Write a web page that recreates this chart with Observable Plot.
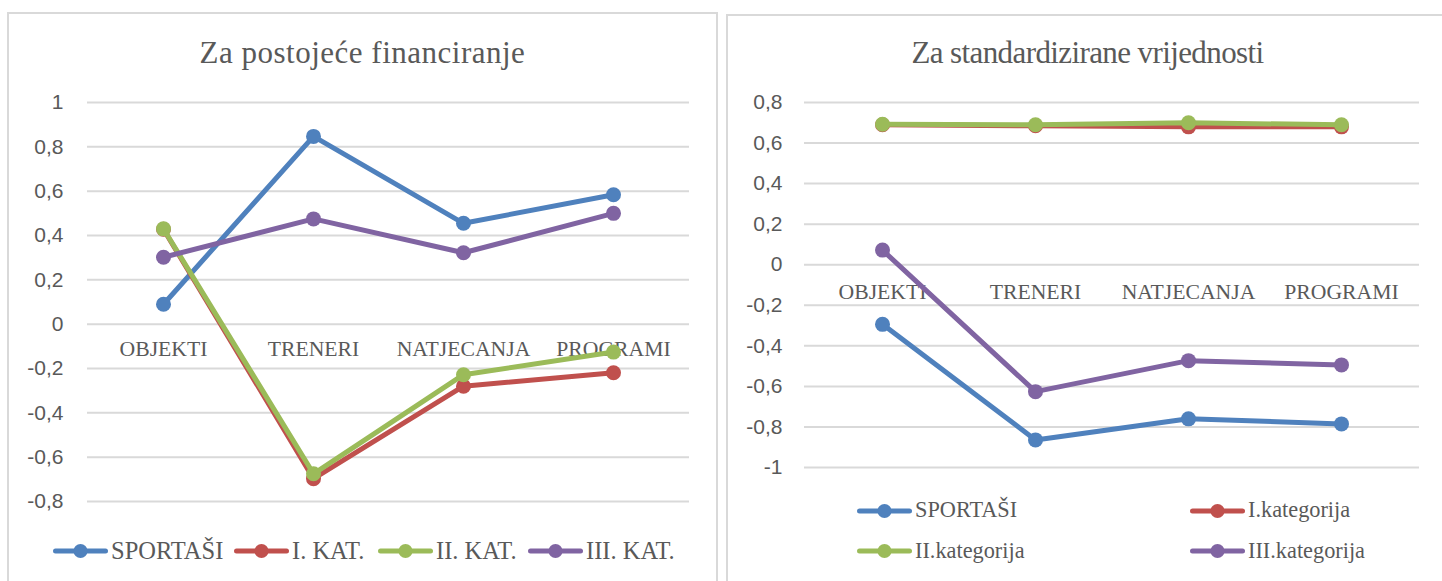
<!DOCTYPE html>
<html>
<head>
<meta charset="utf-8">
<script src="https://cdn.jsdelivr.net/npm/d3@7"></script>
<script src="https://cdn.jsdelivr.net/npm/@observablehq/plot@0.6"></script>
<style>
  html, body { margin: 0; padding: 0; background: #fff; overflow: hidden; width: 1442px; height: 581px; }
  .panel { position: absolute; box-sizing: border-box; border: 2px solid #d9d9d9; background: #fff; }
  .title { position: absolute; font-family: "Liberation Serif", serif; font-size: 31px; line-height: 31px; color: #595959; white-space: nowrap; text-align: center; }
  .plotbox { position: absolute; }
  .leg { position: absolute; height: 24px; display: flex; align-items: center; font-family: "Liberation Serif", serif; color: #595959; white-space: nowrap; line-height: 1; }
  .leg svg { display: block; margin-right: 3px; }
</style>
</head>
<body>
<div id="root"></div>
<script>
// ---------- data ----------
const categories = ["OBJEKTI", "TRENERI", "NATJECANJA", "PROGRAMI"];
const colors = ["#4f81bd", "#c0504d", "#9bbb59", "#8064a2"];

// Left chart: "Za postojeće financiranje"
const leftTitle = "Za postojeće financiranje";
const leftSeries = ["SPORTAŠI", "I. KAT.", "II. KAT.", "III. KAT."];
const leftSportasi = [0.09, 0.847, 0.455, 0.584];
const leftKat1 = [0.428, -0.697, -0.28, -0.219];
const leftKat2 = [0.43, -0.675, -0.228, -0.126];
const leftKat3 = [0.302, 0.475, 0.322, 0.50];
const leftTicks = [-0.8, -0.6, -0.4, -0.2, 0, 0.2, 0.4, 0.6, 0.8, 1];

// Right chart: "Za standardizirane vrijednosti"
const rightTitle = "Za standardizirane vrijednosti";
const rightSeries = ["SPORTAŠI", "I.kategorija", "II.kategorija", "III.kategorija"];
const rightSportasi = [-0.294, -0.864, -0.76, -0.785];
const rightKat1 = [0.69, 0.685, 0.68, 0.68];
const rightKat2 = [0.693, 0.69, 0.70, 0.69];
const rightKat3 = [0.072, -0.626, -0.473, -0.494];
const rightTicks = [-1, -0.8, -0.6, -0.4, -0.2, 0, 0.2, 0.4, 0.6, 0.8];

// ---------- helpers ----------
const fmt = d => String(Math.round(d * 10) / 10).replace(".", ",");
function toRows(seriesNames, valueLists) {
  const rows = [];
  seriesNames.forEach((s, i) => {
    valueLists[i].forEach((v, j) => rows.push({series: s, cat: categories[j], value: v}));
  });
  return rows;
}

const root = document.getElementById("root");
function el(tag, cls, styles, text) {
  const e = document.createElement(tag);
  if (cls) e.className = cls;
  Object.assign(e.style, styles || {});
  if (text != null) e.textContent = text;
  root.appendChild(e);
  return e;
}

function makeChart(cfg) {
  const rows = toRows(cfg.series, cfg.values);
  const marks = [
    Plot.gridY(cfg.ticks, {stroke: "#d9d9d9", strokeOpacity: 1, strokeWidth: 2}),
    Plot.axisY(cfg.ticks, {tickSize: 0, tickPadding: cfg.tickPadding, tickFormat: fmt, fontSize: 21, color: "#595959", label: null, fontFamily: "Liberation Sans"}),
    Plot.text(categories, {x: d => d, y: () => 0, dy: cfg.catDy, text: d => d, fontSize: 21.7, fontFamily: "Liberation Serif", fill: "#595959"})
  ];
  cfg.series.forEach(s => {
    const sub = rows.filter(r => r.series === s);
    marks.push(Plot.line(sub, {x: "cat", y: "value", stroke: "series", strokeWidth: 5}));
    marks.push(Plot.dot(sub, {x: "cat", y: "value", fill: "series", r: 7.5}));
  });
  return Plot.plot({
    width: cfg.width, height: cfg.height,
    marginLeft: cfg.ml, marginRight: cfg.mr, marginTop: cfg.mt, marginBottom: cfg.mb,
    style: {background: "transparent", overflow: "visible", fontFamily: "Liberation Sans"},
    x: {type: "point", domain: categories, padding: 0.5, axis: null},
    y: {domain: cfg.domain, axis: null},
    color: {domain: cfg.series, range: colors},
    marks
  });
}

function legendItem(x, cy, color, label, fontSize) {
  const d = el("div", "leg", {left: x + "px", top: (cy - 12) + "px", fontSize: fontSize + "px"});
  const ns = "http://www.w3.org/2000/svg";
  const svg = document.createElementNS(ns, "svg");
  svg.setAttribute("width", 55); svg.setAttribute("height", 16);
  const ln = document.createElementNS(ns, "line");
  ln.setAttribute("x1", 2.5); ln.setAttribute("x2", 52.5); ln.setAttribute("y1", 8); ln.setAttribute("y2", 8);
  ln.setAttribute("stroke", color); ln.setAttribute("stroke-width", 5); ln.setAttribute("stroke-linecap", "round");
  const c = document.createElementNS(ns, "circle");
  c.setAttribute("cx", 27.5); c.setAttribute("cy", 8); c.setAttribute("r", 7); c.setAttribute("fill", color);
  svg.appendChild(ln); svg.appendChild(c);
  d.appendChild(svg);
  const sp = document.createElement("span"); sp.textContent = label; d.appendChild(sp);
}

// ---------- left panel ----------
el("div", "panel", {left: "7px", top: "12px", width: "711px", height: "600px"});
el("div", "title", {left: "7px", top: "37px", width: "711px", letterSpacing: "0.5px"}, leftTitle);
const leftBox = el("div", "plotbox", {left: "8px", top: "80px"});
leftBox.appendChild(makeChart({
  series: leftSeries, values: [leftSportasi, leftKat1, leftKat2, leftKat3],
  ticks: leftTicks, domain: [-0.8, 1],
  width: 710, height: 440, ml: 79, mr: 29, mt: 22, mb: 19,
  tickPadding: 24, catDy: 25
}));
const leftLegX = [53, 234, 378, 528];
leftSeries.forEach((s, i) => legendItem(leftLegX[i], 551, colors[i], s, 24.5));

// ---------- right panel ----------
el("div", "panel", {left: "726px", top: "14px", width: "723px", height: "600px"});
el("div", "title", {left: "726px", top: "37px", width: "723px", letterSpacing: "-0.6px"}, rightTitle);
const rightBox = el("div", "plotbox", {left: "726px", top: "80px"});
rightBox.appendChild(makeChart({
  series: rightSeries, values: [rightSportasi, rightKat1, rightKat2, rightKat3],
  ticks: rightTicks, domain: [-1, 0.8],
  width: 716, height: 420, ml: 78, mr: 23, mt: 22, mb: 33,
  tickPadding: 22, catDy: 27
}));
const rightLegPos = [[857, 510.5], [1190, 510.5], [857, 551], [1190, 551]];
rightSeries.forEach((s, i) => legendItem(rightLegPos[i][0], rightLegPos[i][1], colors[i], s, 22.3));
</script>
</body>
</html>
